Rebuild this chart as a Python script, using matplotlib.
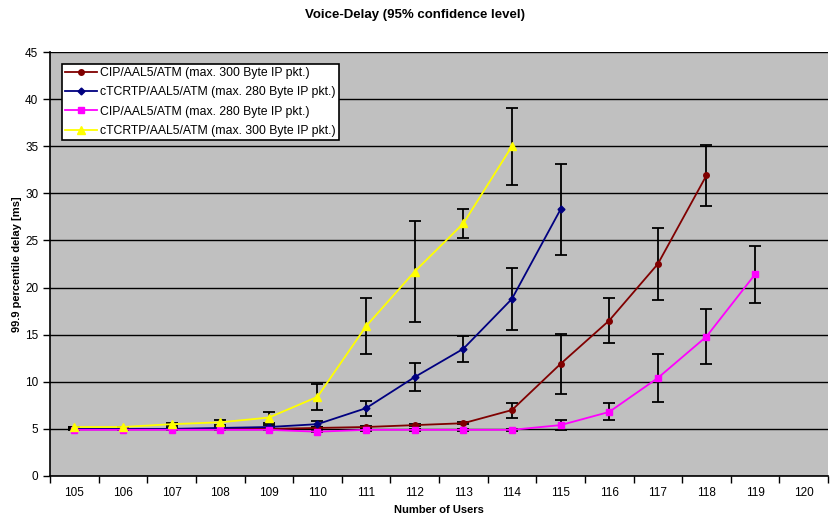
import numpy as np
import matplotlib.pyplot as plt

plt.rcParams['font.family'] = ['Liberation Sans', 'DejaVu Sans']

users = list(range(105, 121))

# mean 99.9 percentile delay [ms] and half-width of 95% confidence interval
cip300 = [5.0, 5.0, 5.0, 5.0, 5.0, 5.1, 5.2, 5.4, 5.6, 7.0, 11.9, 16.5, 22.5, 31.9]
cip300_err = [0.05, 0.05, 0.05, 0.05, 0.05, 0.05, 0.1, 0.1, 0.1, 0.8, 3.2, 2.4, 3.8, 3.2]

ctc280 = [5.0, 5.0, 5.0, 5.1, 5.2, 5.5, 7.2, 10.5, 13.5, 18.8, 28.3]
ctc280_err = [0.05, 0.05, 0.05, 0.1, 0.2, 0.3, 0.8, 1.5, 1.4, 3.3, 4.8]

cip280 = [4.9, 4.9, 4.9, 4.9, 4.9, 4.7, 4.9, 4.9, 4.9, 4.9, 5.4, 6.8, 10.4, 14.8, 21.4]
cip280_err = [0.05, 0.05, 0.05, 0.05, 0.05, 0.05, 0.1, 0.1, 0.1, 0.1, 0.5, 0.9, 2.5, 2.9, 3.0]

ctc300 = [5.2, 5.2, 5.5, 5.7, 6.2, 8.4, 15.9, 21.7, 26.8, 35.0]
ctc300_err = [0.05, 0.05, 0.15, 0.25, 0.6, 1.4, 3.0, 5.4, 1.5, 4.1]

series = [
    ("CIP/AAL5/ATM (max. 300 Byte IP pkt.)", cip300, cip300_err, '#800000', 'o', 4),
    ("cTCRTP/AAL5/ATM (max. 280 Byte IP pkt.)", ctc280, ctc280_err, '#000080', 'D', 3.5),
    ("CIP/AAL5/ATM (max. 280 Byte IP pkt.)", cip280, cip280_err, '#FF00FF', 's', 4),
    ("cTCRTP/AAL5/ATM (max. 300 Byte IP pkt.)", ctc300, ctc300_err, '#FFFF00', '^', 6),
]

fig = plt.figure(figsize=(8.3, 5.22), dpi=100)
ax = fig.add_axes([50 / 830, 1 - 476 / 522, 778 / 830, 424 / 522])
ax.set_facecolor('#C0C0C0')

for label, y, err, col, mk, ms in series:
    x = np.arange(len(y))
    ax.errorbar(x, y, yerr=err, fmt='none', ecolor='black', elinewidth=1.3,
                capsize=4, capthick=1.3, zorder=2)
for label, y, err, col, mk, ms in series:
    x = np.arange(len(y))
    ax.plot(x, y, color=col, marker=mk, markersize=ms, linewidth=1.3,
            label=label, zorder=3)

ax.set_xlim(-0.5, len(users) - 0.5)
ax.set_ylim(0, 45)
ax.set_yticks(range(0, 46, 5))
ax.yaxis.grid(True, color='black', linewidth=1)
ax.set_axisbelow(True)

ax.set_xticks(np.arange(-0.5, len(users), 1))
ax.set_xticklabels([])
ax.set_xticks(np.arange(len(users)), minor=True)
ax.set_xticklabels([str(u) for u in users], minor=True)
ax.tick_params(axis='x', which='major', length=5, width=1, direction='out')
ax.tick_params(axis='x', which='minor', length=0, pad=8, labelsize=8.5)
ax.tick_params(axis='y', length=5, width=1, labelsize=8.5)

for s in ['top', 'right']:
    ax.spines[s].set_visible(False)
for s in ['left', 'bottom']:
    ax.spines[s].set_linewidth(1.2)

ax.set_xlabel('Number of Users', fontsize=8, fontweight='bold', labelpad=4)
ax.set_ylabel('99.9 percentile delay [ms]', fontsize=8, fontweight='bold', labelpad=2)
fig.suptitle('Voice-Delay (95% confidence level)', fontsize=9.5, fontweight='bold', y=0.982)

leg = ax.legend(loc='upper left', bbox_to_anchor=(0.015, 0.972), fontsize=8.8,
                frameon=True, fancybox=False, edgecolor='black', framealpha=1,
                borderpad=0.25, labelspacing=0.6, handlelength=2.6, handletextpad=0.3,
                borderaxespad=0)
leg.get_frame().set_linewidth(1.2)

fig.savefig('out.png', dpi=100)
